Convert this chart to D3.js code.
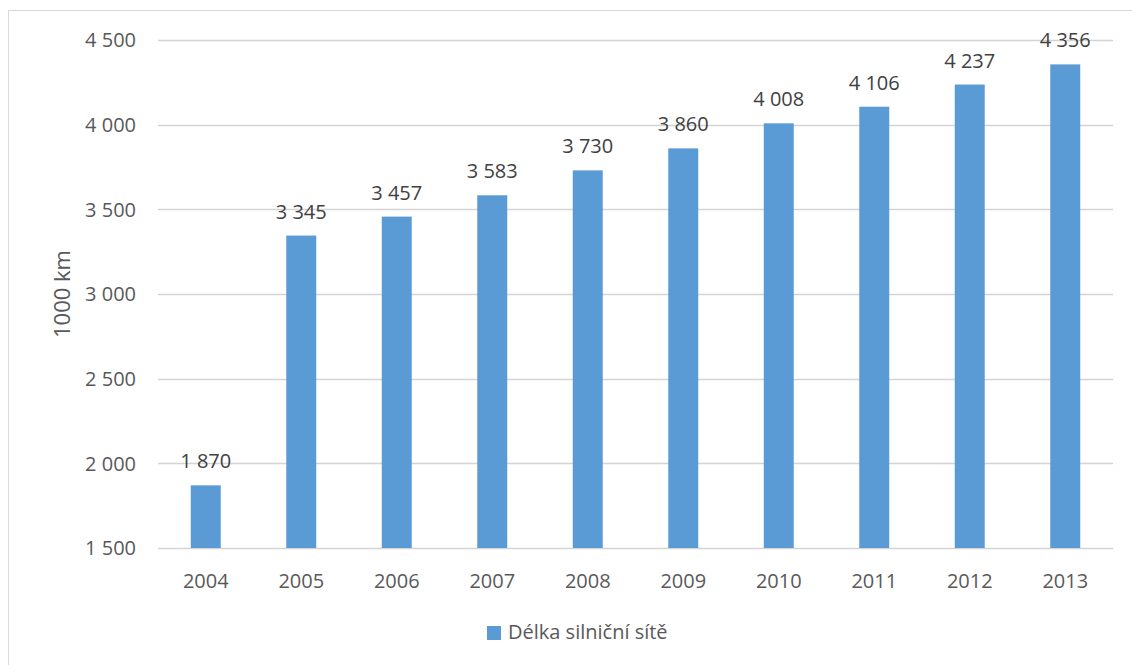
<!DOCTYPE html>
<html>
<head>
<meta charset="utf-8">
<script src="https://cdn.jsdelivr.net/npm/d3@7"></script>
<style>
  body { margin: 0; background: #fff; }
  text { font-family: "Open Sans", "Noto Sans", sans-serif; fill: #595959; }
</style>
</head>
<body>
<svg id="chart" width="1132" height="665"></svg>
<script>
// data
const years = ["2004", "2005", "2006", "2007", "2008", "2009", "2010", "2011", "2012", "2013"];
const lengths = [1870, 3345, 3457, 3583, 3730, 3860, 4008, 4106, 4237, 4356];
const yTicks = [1500, 2000, 2500, 3000, 3500, 4000, 4500];
const seriesName = "Délka silniční sítě";
const yTitle = "1000 km";

const svg = d3.select("#chart");
const W = 1132, H = 665;
const margin = { top: 40, right: 19, bottom: 117, left: 158 };
const width = W - margin.left - margin.right,
      height = H - margin.top - margin.bottom;

// chart frame (only left/top visible in reference)
svg.append("rect")
    .attr("x", 8.5).attr("y", 10.5)
    .attr("width", W + 10).attr("height", H + 10)
    .attr("fill", "none").attr("stroke", "#d9d9d9").attr("stroke-width", 1);

const x = d3.scaleBand().domain(years).range([0, width]).paddingInner(0.686).paddingOuter(0.343);
const y = d3.scaleLinear().domain([1500, 4500]).range([height, 0]);

const g = svg.append("g").attr("transform", "translate(" + margin.left + "," + margin.top + ")");

// gridlines
g.selectAll(".grid")
    .data(yTicks)
    .enter().append("line")
    .attr("x1", 0).attr("x2", width)
    .attr("y1", d => Math.round(y(d)) + 0.5).attr("y2", d => Math.round(y(d)) + 0.5)
    .attr("stroke", "#d4d4d4").attr("stroke-width", 1.4);

// y tick labels
const fmt = v => d3.format(",")(v).replace(/,/g, "\u00a0");
g.selectAll(".ylab")
    .data(yTicks)
    .enter().append("text")
    .attr("x", -22).attr("y", d => y(d))
    .attr("dy", "0.36em")
    .attr("text-anchor", "end")
    .style("font-size", "20px")
    .text(fmt);

// bars
g.selectAll(".bar")
    .data(lengths)
    .enter().append("rect")
    .attr("x", (d, i) => x(years[i]))
    .attr("width", x.bandwidth())
    .attr("y", d => y(d))
    .attr("height", d => height - y(d))
    .attr("fill", "#5b9bd5");

// value labels
g.selectAll(".vlab")
    .data(lengths)
    .enter().append("text")
    .attr("x", (d, i) => x(years[i]) + x.bandwidth() / 2)
    .attr("y", d => y(d) - 17)
    .attr("text-anchor", "middle")
    .style("font-size", "20px")
    .style("fill", "#404040")
    .text(fmt);

// x labels
g.selectAll(".xlab")
    .data(years)
    .enter().append("text")
    .attr("x", d => x(d) + x.bandwidth() / 2)
    .attr("y", height + 40)
    .attr("text-anchor", "middle")
    .style("font-size", "20px")
    .text(d => d);

// y title
svg.append("text")
    .attr("transform", "translate(70," + (margin.top + height / 2) + ") rotate(-90)")
    .attr("text-anchor", "middle")
    .style("font-size", "22px")
    .text(yTitle);

// legend
const leg = svg.append("g").attr("transform", "translate(487,626)");
leg.append("rect").attr("width", 14).attr("height", 14).attr("fill", "#5b9bd5");
leg.append("text").attr("x", 21).attr("y", 13).style("font-size", "20px").text(seriesName);
</script>
</body>
</html>
